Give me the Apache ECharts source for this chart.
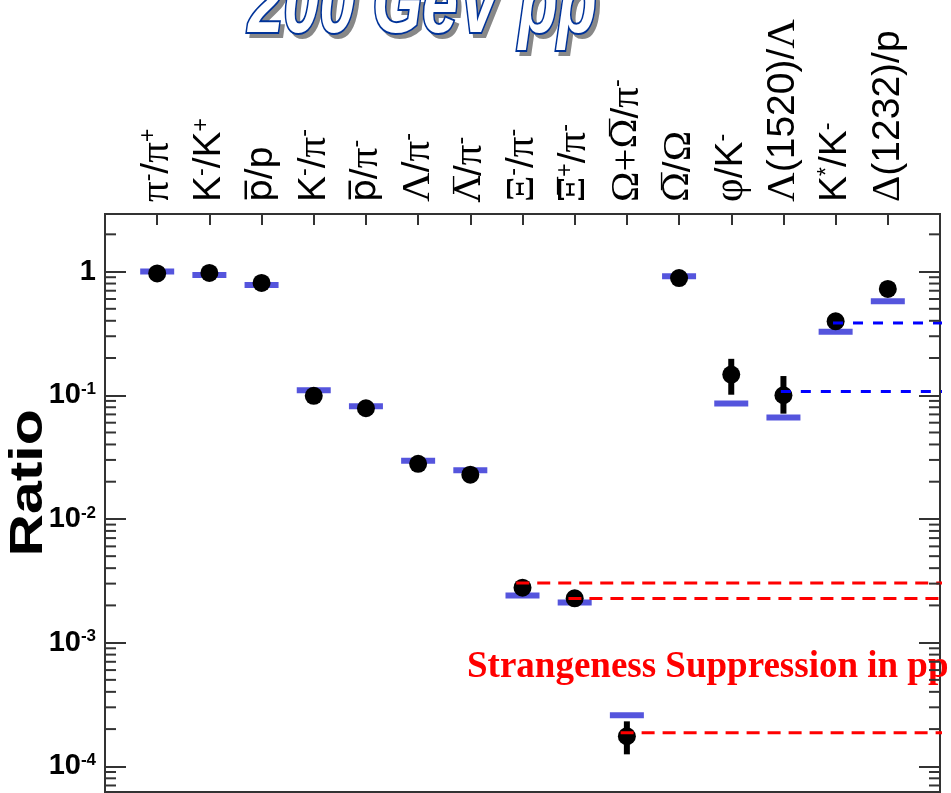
<!DOCTYPE html>
<html>
<head>
<meta charset="utf-8">
<script src="https://cdn.jsdelivr.net/npm/echarts@6/dist/echarts.min.js"></script>
<style>html,body{margin:0;padding:0;background:#fff;}#c{width:951px;height:793px;}</style>
</head>
<body>
<div id="c"></div>
<script>
// ---- data ----
const categories = ['π-/π+','K-/K+','p̄/p','K-/π-','p̄/π-','Λ/π-','Λ̄/π-','Ξ-/π-','Ξ̄+/π-','Ω+Ω̄/π-','Ω̄/Ω','φ/K-','Λ(1520)/Λ','K*/K-','Δ(1232)/p'];
const catLabels = [
  '{g|π}{s|-}{n|/}{g|π}{s|+}',
  '{n|K}{s|-}{n|/K}{s|+}',
  '{o|p\u0305}{n|/p}',
  '{n|K}{s|-}{n|/}{g|π}{s|-}',
  '{o|p\u0305}{n|/}{g|π}{s|-}',
  '{g|Λ}{n|/}{g|π}{s|-}',
  '{og|Λ\u0305}{n|/}{g|π}{s|-}',
  '{g|Ξ}{s|-}{n|/}{g|π}{s|-}',
  '{og|Ξ\u0305}{s|+}{n|/}{g|π}{s|-}',
  '{g|Ω+}{og|Ω\u0305}{n|/}{g|π}{s|-}',
  '{og|Ω\u0305}{n|/}{g|Ω}',
  '{g|φ}{n|/K}{s|-}',
  '{g|Λ}{n|(1520)/}{g|Λ}',
  '{n|K}{s|*}{n|/K}{s|-}',
  '{g|Δ}{n|(1232)/p}'
];
const dataValues  = [0.965, 0.975, 0.81, 0.099, 0.0785, 0.0279, 0.0228, 0.00278, 0.00228, 1.75e-4, 0.886, 0.147, 0.100, 0.396, 0.724];
const errHigh     = [1.12, 1.13, 0.94, 0.115, 0.091, 0.0323, 0.0264, 0.0032, 0.00264, 2.31e-4, 1.03, 0.197, 0.143, 0.46, 0.84];
const errLow      = [0.95, 0.96, 0.80, 0.098, 0.078, 0.0276, 0.0226, 0.00275, 0.00226, 1.25e-4, 0.87, 0.101, 0.071, 0.39, 0.71];
const modelValues = [1.0, 0.937, 0.78, 0.110, 0.0815, 0.0296, 0.0248, 0.00240, 0.00211, 2.59e-4, 0.916, 0.0859, 0.0662, 0.326, 0.575];
const redRefIndex  = [8, 9, 10];
const redRefValues = [0.00303, 0.00227, 1.87e-4];
const blueRefIndex  = [13, 14];
const blueRefValues = [0.107, 0.384];
const blueRefEnd    = [16.05, 16.21];
const redRefEnd     = [16.21, 16.21, 16.21];
const yTickValues = [1e-4, 1e-3, 1e-2, 1e-1, 1];
const yTickLabels = ['{b|10}{s|-4}', '{b|10}{s|-3}', '{b|10}{s|-2}', '{b|10}{s|-1}', '{b|1}'];
const yMin = 6.2e-5, yMax = 2.92;

// minor tick positions on the log axis (2..9 x 10^n)
const minorTicks = [];
for (let e = -5; e <= 0; e++) for (let m = 2; m <= 9; m++) { const v = m * Math.pow(10, e); if (v > yMin && v < yMax) minorTicks.push([0, v]); }

const chart = echarts.init(document.getElementById('c'), null, {renderer: 'canvas'});
const sansF = '"Liberation Sans", Arial, sans-serif';
const serifF = '"Liberation Serif", "Times New Roman", serif';

const series = [];
// model (blue bars)
series.push({type: 'scatter', yAxisIndex: 0, symbol: 'rect', symbolSize: [34, 6], itemStyle: {color: '#5555dd', opacity: 1},
  data: modelValues.map((v, i) => [i + 1, v]), z: 2, silent: true});
// error bars
series.push({type: 'custom', yAxisIndex: 0, z: 3, silent: true,
  data: dataValues.map((v, i) => [i + 1, errLow[i], errHigh[i]]),
  renderItem: function (params, api) {
    const x = api.value(0), lo = api.value(1), hi = api.value(2);
    const p1 = api.coord([x, lo]), p2 = api.coord([x, hi]);
    const thick = hi / lo > 1.5;
    return {type: 'line', shape: {x1: p1[0], y1: p1[1], x2: p2[0], y2: p2[1]}, style: {stroke: '#000', lineWidth: thick ? 6 : 2}};
  }});
// data points
series.push({type: 'scatter', yAxisIndex: 0, symbol: 'circle', symbolSize: 18, itemStyle: {color: '#000', opacity: 1},
  data: dataValues.map((v, i) => [i + 1, v]), z: 4, silent: true});
// red dashed reference lines
redRefIndex.forEach((idx, k) => {
  series.push({type: 'line', yAxisIndex: 0, clip: false, symbol: 'none', z: 5, silent: true,
    lineStyle: {color: '#ff0000', width: 3, type: [13, 8], opacity: 1},
    data: [[idx - 0.12, redRefValues[k]], [redRefEnd[k], redRefValues[k]]]});
});
// blue dashed reference lines
blueRefIndex.forEach((idx, k) => {
  series.push({type: 'line', yAxisIndex: 0, clip: false, symbol: 'none', z: 5, silent: true,
    lineStyle: {color: '#0000ff', width: 3, type: [10, 10], opacity: 1},
    data: [[idx - 0.05, blueRefValues[k]], [blueRefEnd[k], blueRefValues[k]]]});
});
// minor ticks on both sides
series.push({type: 'custom', yAxisIndex: 0, z: 6, silent: true, clip: false, data: minorTicks,
  renderItem: function (params, api) {
    const v = api.value(1);
    const pl = api.coord([0, v]), pr = api.coord([16, v]);
    return {type: 'group', children: [
      {type: 'line', shape: {x1: pl[0], y1: pl[1], x2: pl[0] + 11, y2: pl[1]}, style: {stroke: '#333', lineWidth: 2}},
      {type: 'line', shape: {x1: pr[0] - 11, y1: pr[1], x2: pr[0], y2: pr[1]}, style: {stroke: '#333', lineWidth: 2}}
    ]};
  }});

const yLabelRich = {
  b: {fontFamily: sansF, fontWeight: 'bold', fontSize: 29, color: '#000'},
  s: {fontFamily: sansF, fontWeight: 'bold', fontSize: 17, color: '#000', verticalAlign: 'top', lineHeight: 24}
};
function yFmt(v) {
  for (let i = 0; i < yTickValues.length; i++) if (Math.abs(Math.log10(v) - Math.log10(yTickValues[i])) < 1e-6) return yTickLabels[i];
  return '';
}

const option = {
  animation: false,
  backgroundColor: '#fff',
  grid: {left: 105, right: 11, top: 214, bottom: 1, show: true, borderColor: '#333', borderWidth: 2, backgroundColor: 'transparent'},
  xAxis: {type: 'value', min: 0, max: 16, interval: 1, position: 'top',
    axisLine: {show: false}, splitLine: {show: false},
    axisTick: {inside: true, length: 11, lineStyle: {color: '#333', width: 2}},
    axisLabel: {rotate: -90, margin: 12, color: '#000',
      formatter: function (v) { const i = Math.round(v) - 1; return (i >= 0 && i < catLabels.length) ? catLabels[i] : ''; },
      rich: {
        n: {fontFamily: sansF, fontSize: 39, color: '#000'},
        o: {fontFamily: '"DejaVu Sans", sans-serif', fontSize: 36, color: '#000'},
        g: {fontFamily: serifF, fontSize: 41, color: '#000'},
        og: {fontFamily: '"DejaVu Serif", serif', fontSize: 36, color: '#000'},
        s: {fontFamily: sansF, fontSize: 23, color: '#000', verticalAlign: 'top'}
      }}},
  yAxis: [
    {type: 'log', logBase: 10, min: yMin, max: yMax, position: 'left',
      axisLine: {show: false}, splitLine: {show: false},
      axisTick: {inside: true, length: 21, lineStyle: {color: '#333', width: 2}},
      minorTick: {show: false},
      axisLabel: {margin: 9, formatter: yFmt, rich: yLabelRich, showMinLabel: false, showMaxLabel: false}},
    {type: 'log', logBase: 10, min: yMin, max: yMax, position: 'right',
      axisLine: {show: false}, splitLine: {show: false},
      axisTick: {inside: true, length: 21, lineStyle: {color: '#333', width: 2}},
      axisLabel: {show: false}}
  ],
  graphic: [
    {type: 'text', x: 252, y: 55, scaleY: 1.35, z: 10, style: {text: '200 GeV pp', font: 'italic bold 64px "Liberation Sans", Arial, sans-serif', fill: '#888', stroke: '#888', lineWidth: 3, verticalAlign: 'bottom', align: 'left'}},
    {type: 'text', x: 248, y: 51, scaleY: 1.35, z: 11, style: {text: '200 GeV pp', font: 'italic bold 64px "Liberation Sans", Arial, sans-serif', fill: '#fff', stroke: '#003399', lineWidth: 3, verticalAlign: 'bottom', align: 'left'}},
    {type: 'text', x: 29, y: 483, rotation: Math.PI / 2, scaleX: 1.28, z: 10, style: {text: 'Ratio', font: 'bold 46px "Liberation Sans", Arial, sans-serif', fill: '#000', align: 'center', verticalAlign: 'middle'}},
    {type: 'text', x: 467, y: 686, z: 1, style: {text: 'Strangeness Suppression in pp', font: 'bold 37px "Liberation Serif", "Times New Roman", serif', fill: '#ff0000', align: 'left', verticalAlign: 'bottom'}}
  ],
  series: series
};
chart.setOption(option);
</script>
</body>
</html>
